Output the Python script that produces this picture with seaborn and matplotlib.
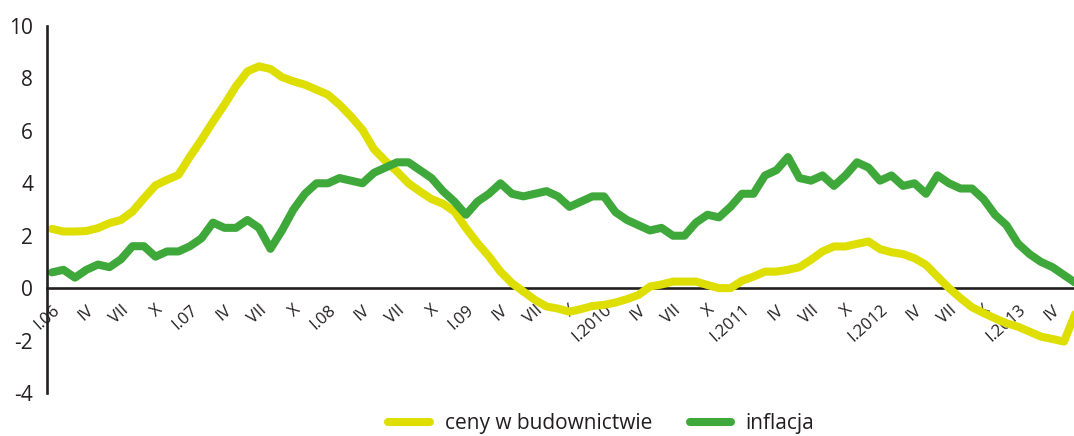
import numpy as np
import pandas as pd
import seaborn as sns
import matplotlib.pyplot as plt

# monthly y/y change, I.2006 - VI.2013
construction_prices = [
    2.26, 2.16, 2.16, 2.18, 2.29, 2.48, 2.60, 2.92, 3.43, 3.92, 4.13, 4.32,
    5.02, 5.66, 6.35, 7.00, 7.70, 8.27, 8.46, 8.36, 8.05, 7.89, 7.76, 7.57,
    7.38, 7.00, 6.55, 6.04, 5.30, 4.85, 4.45, 4.00, 3.69, 3.40, 3.22, 2.92,
    2.29, 1.72, 1.21, 0.63, 0.19, -0.13, -0.45, -0.70, -0.78, -0.90, -0.80, -0.68,
    -0.64, -0.55, -0.42, -0.26, 0.06, 0.14, 0.25, 0.25, 0.25, 0.12, 0.00, 0.00,
    0.28, 0.44, 0.63, 0.63, 0.70, 0.80, 1.08, 1.40, 1.59, 1.59, 1.69, 1.78,
    1.49, 1.37, 1.30, 1.14, 0.89, 0.44, 0.00, -0.38, -0.73, -0.95, -1.15, -1.34,
    -1.47, -1.66, -1.85, -1.94, -2.04, -0.95,
]
inflation = [
    0.6, 0.7, 0.4, 0.7, 0.9, 0.8, 1.1, 1.6, 1.6, 1.2, 1.4, 1.4,
    1.6, 1.9, 2.5, 2.3, 2.3, 2.6, 2.3, 1.5, 2.2, 3.0, 3.6, 4.0,
    4.0, 4.2, 4.1, 4.0, 4.4, 4.6, 4.8, 4.8, 4.5, 4.2, 3.7, 3.3,
    2.8, 3.3, 3.6, 4.0, 3.6, 3.5, 3.6, 3.7, 3.5, 3.1, 3.3, 3.5,
    3.5, 2.9, 2.6, 2.4, 2.2, 2.3, 2.0, 2.0, 2.5, 2.8, 2.7, 3.1,
    3.6, 3.6, 4.3, 4.5, 5.0, 4.2, 4.1, 4.3, 3.9, 4.3, 4.8, 4.6,
    4.1, 4.3, 3.9, 4.0, 3.6, 4.3, 4.0, 3.8, 3.8, 3.4, 2.8, 2.4,
    1.7, 1.3, 1.0, 0.8, 0.5, 0.2,
]
series_names = ["ceny w budownictwie", "inflacja"]
series_colors = ["#dede00", "#3fa83a"]
tick_labels = [
    "I.06", "IV", "VII", "X",
    "I.07", "IV", "VII", "X",
    "I.08", "IV", "VII", "X",
    "I.09", "IV", "VII", "X",
    "I.2010", "IV", "VII", "X",
    "I.2011", "IV", "VII", "X",
    "I.2012", "IV", "VII", "X",
    "I.2013", "IV",
]
y_ticks = [-4, -2, 0, 2, 4, 6, 8, 10]

month = np.arange(len(inflation))
df = pd.concat([
    pd.DataFrame({"month": month, "value": construction_prices, "series": series_names[0]}),
    pd.DataFrame({"month": month, "value": inflation, "series": series_names[1]}),
])

sns.set_style("white")
plt.rcParams["font.family"] = ["Open Sans", "DejaVu Sans"]
plt.rcParams["axes.unicode_minus"] = False
text_color = "#231f20"

fig = plt.figure(figsize=(10.74, 4.36), dpi=100)
ax = fig.add_axes([47 / 1074, 1 - 393 / 436, 1 - 47 / 1074, (393 - 26) / 436])

sns.lineplot(data=df, x="month", y="value", hue="series",
             palette=dict(zip(series_names, series_colors)),
             linewidth=5.8, ax=ax, legend=False)
for ln in ax.lines:
    ln.set_solid_joinstyle("round")

ax.set_xlim(-0.43, 88.87)
ax.set_ylim(-4, 10)
ax.set_xlabel("")
ax.set_ylabel("")

ax.spines["top"].set_visible(False)
ax.spines["right"].set_visible(False)
ax.spines["left"].set_linewidth(1.9)
ax.spines["left"].set_color(text_color)
ax.spines["bottom"].set_position(("data", 0))
ax.spines["bottom"].set_linewidth(1.9)
ax.spines["bottom"].set_color(text_color)
ax.spines["bottom"].set_zorder(1)

ax.set_yticks(y_ticks)
ax.set_yticklabels([str(v) for v in y_ticks], fontsize=15, color=text_color)
ax.tick_params(axis="y", length=0, pad=10)

ax.set_xticks(month[::3])
ax.set_xticklabels(tick_labels, fontsize=12, color=text_color,
                   rotation=42, ha="right", rotation_mode="anchor")
ax.tick_params(axis="x", length=0, pad=10)

handles = [plt.Line2D([], [], color=c, linewidth=5.8, solid_capstyle="round")
           for c in series_colors]
fig.legend(handles, series_names, loc="center", bbox_to_anchor=(0.56, 0.028),
           ncol=2, frameon=False, fontsize=15, handlelength=2.0,
           handletextpad=0.7, columnspacing=1.8, labelcolor=text_color)

fig.savefig("out.png", dpi=100)
